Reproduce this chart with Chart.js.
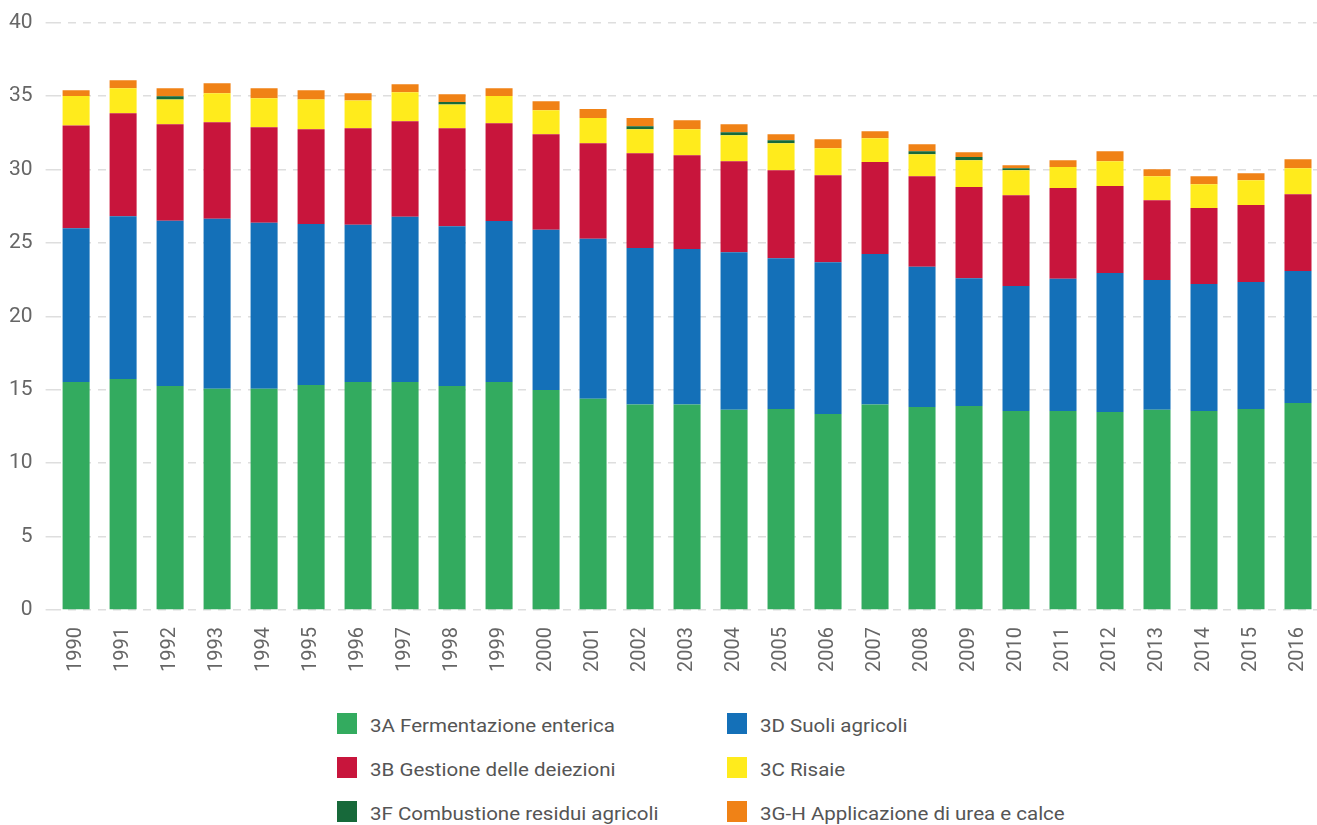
<!DOCTYPE html>
<html>
<head>
<meta charset="utf-8">
<script src="https://cdn.jsdelivr.net/npm/chart.js@4"></script>
<style>
  html, body { margin: 0; padding: 0; background: #fff; overflow: hidden; }
  body { width: 1317px; height: 825px; position: relative; font-family: Roboto, sans-serif; }
  #wrap { position: absolute; left: -12px; top: -3px; width: 1351px; height: 692px; }
  #legend { position: absolute; left: 337px; top: 713px; display: grid;
            grid-template-columns: 390px 400px; row-gap: 23px; }
  .item { display: flex; align-items: center; height: 21px; font-size: 18px; color: #555; }
  .box { width: 20px; height: 21px; margin-right: 13px; flex: none; }
  .txt { display: inline-block; transform: scaleX(1.14); transform-origin: left center;
         white-space: nowrap; position: relative; top: 2px; }
</style>
</head>
<body>
<div id="wrap"><canvas id="chart"></canvas></div>
<div id="legend"></div>
<script>
// Emissioni agricoltura per categoria (Mt CO2 eq.)
const years = ['1990', '1991', '1992', '1993', '1994', '1995', '1996', '1997', '1998', '1999',
    '2000', '2001', '2002', '2003', '2004', '2005', '2006', '2007', '2008', '2009',
    '2010', '2011', '2012', '2013', '2014', '2015', '2016'];

const fermentazione = [15.53, 15.73, 15.26, 15.06, 15.06, 15.33, 15.53, 15.53, 15.26, 15.53,
    14.99, 14.38, 13.99, 13.99, 13.63, 13.69, 13.35, 13.99, 13.83, 13.90,
    13.56, 13.56, 13.49, 13.63, 13.56, 13.69, 14.10];
const suoli = [10.47, 11.09, 11.24, 11.58, 11.31, 10.95, 10.70, 11.25, 10.88, 10.96,
    10.90, 10.90, 10.66, 10.59, 10.74, 10.27, 10.34, 10.25, 9.54, 8.70,
    8.50, 9.00, 9.46, 8.84, 8.64, 8.64, 8.98];
const deiezioni = [7.00, 7.01, 6.58, 6.58, 6.51, 6.46, 6.58, 6.51, 6.67, 6.66,
    6.51, 6.51, 6.45, 6.39, 6.19, 5.99, 5.92, 6.26, 6.17, 6.20,
    6.19, 6.17, 5.92, 5.44, 5.17, 5.25, 5.24];
const risaie = [2.00, 1.70, 1.68, 1.97, 1.97, 2.02, 1.88, 1.97, 1.61, 1.85,
    1.64, 1.71, 1.64, 1.77, 1.77, 1.84, 1.84, 1.63, 1.50, 1.83,
    1.70, 1.43, 1.69, 1.63, 1.63, 1.69, 1.77];
const combustione = [0, 0, 0.23, 0, 0, 0, 0, 0, 0.18, 0,
    0, 0, 0.21, 0, 0.21, 0.20, 0, 0, 0.20, 0.21,
    0.14, 0, 0, 0, 0, 0, 0];
const ureaCalce = [0.39, 0.54, 0.54, 0.68, 0.68, 0.63, 0.50, 0.54, 0.52, 0.53,
    0.61, 0.61, 0.55, 0.61, 0.54, 0.41, 0.61, 0.47, 0.48, 0.34,
    0.20, 0.47, 0.68, 0.48, 0.54, 0.48, 0.61];

const yTicks = [0, 5, 10, 15, 20, 25, 30, 35, 40];

const series = [
    { label: '3A Fermentazione enterica', data: fermentazione, color: '#33ab5f' },
    { label: '3D Suoli agricoli', data: suoli, color: '#1470b8' },
    { label: '3B Gestione delle deiezioni', data: deiezioni, color: '#c8153c' },
    { label: '3C Risaie', data: risaie, color: '#ffeb1c' },
    { label: '3F Combustione residui agricoli', data: combustione, color: '#17693a' },
    { label: '3G-H Applicazione di urea e calce', data: ureaCalce, color: '#f08216' }
];

const datasets = series.map(s => ({
    label: s.label,
    data: s.data,
    backgroundColor: s.color,
    borderWidth: 0,
    barPercentage: 0.575,
    categoryPercentage: 1
}));

new Chart(document.getElementById('chart'), {
    type: 'bar',
    data: { labels: years, datasets: datasets },
    options: {
        responsive: true,
        maintainAspectRatio: false,
        animation: false,
        layout: { padding: { left: 8, top: 9, right: 0, bottom: 0 } },
        plugins: {
            legend: { display: false },
            tooltip: { enabled: false }
        },
        scales: {
            x: {
                stacked: true,
                grid: { display: false, drawTicks: false },
                border: { display: false },
                ticks: {
                    color: '#666',
                    font: { family: 'Roboto', size: 20 },
                    minRotation: 90,
                    maxRotation: 90,
                    padding: 17
                }
            },
            y: {
                stacked: true,
                min: 0,
                max: 40,
                afterBuildTicks: axis => { axis.ticks = yTicks.map(v => ({ value: v })); },
                grid: { color: '#dedede', lineWidth: 1.5, tickLength: 7 },
                border: { display: false, dash: [8, 7] },
                ticks: {
                    color: '#666',
                    font: { family: 'Roboto', size: 21 },
                    padding: 13
                }
            }
        }
    }
});

// legenda in due colonne
const legendEl = document.getElementById('legend');
series.forEach(s => {
    const item = document.createElement('div');
    item.className = 'item';
    const box = document.createElement('span');
    box.className = 'box';
    box.style.background = s.color;
    const txt = document.createElement('span');
    txt.className = 'txt';
    txt.textContent = s.label;
    item.appendChild(box);
    item.appendChild(txt);
    legendEl.appendChild(item);
});
</script>
</body>
</html>
